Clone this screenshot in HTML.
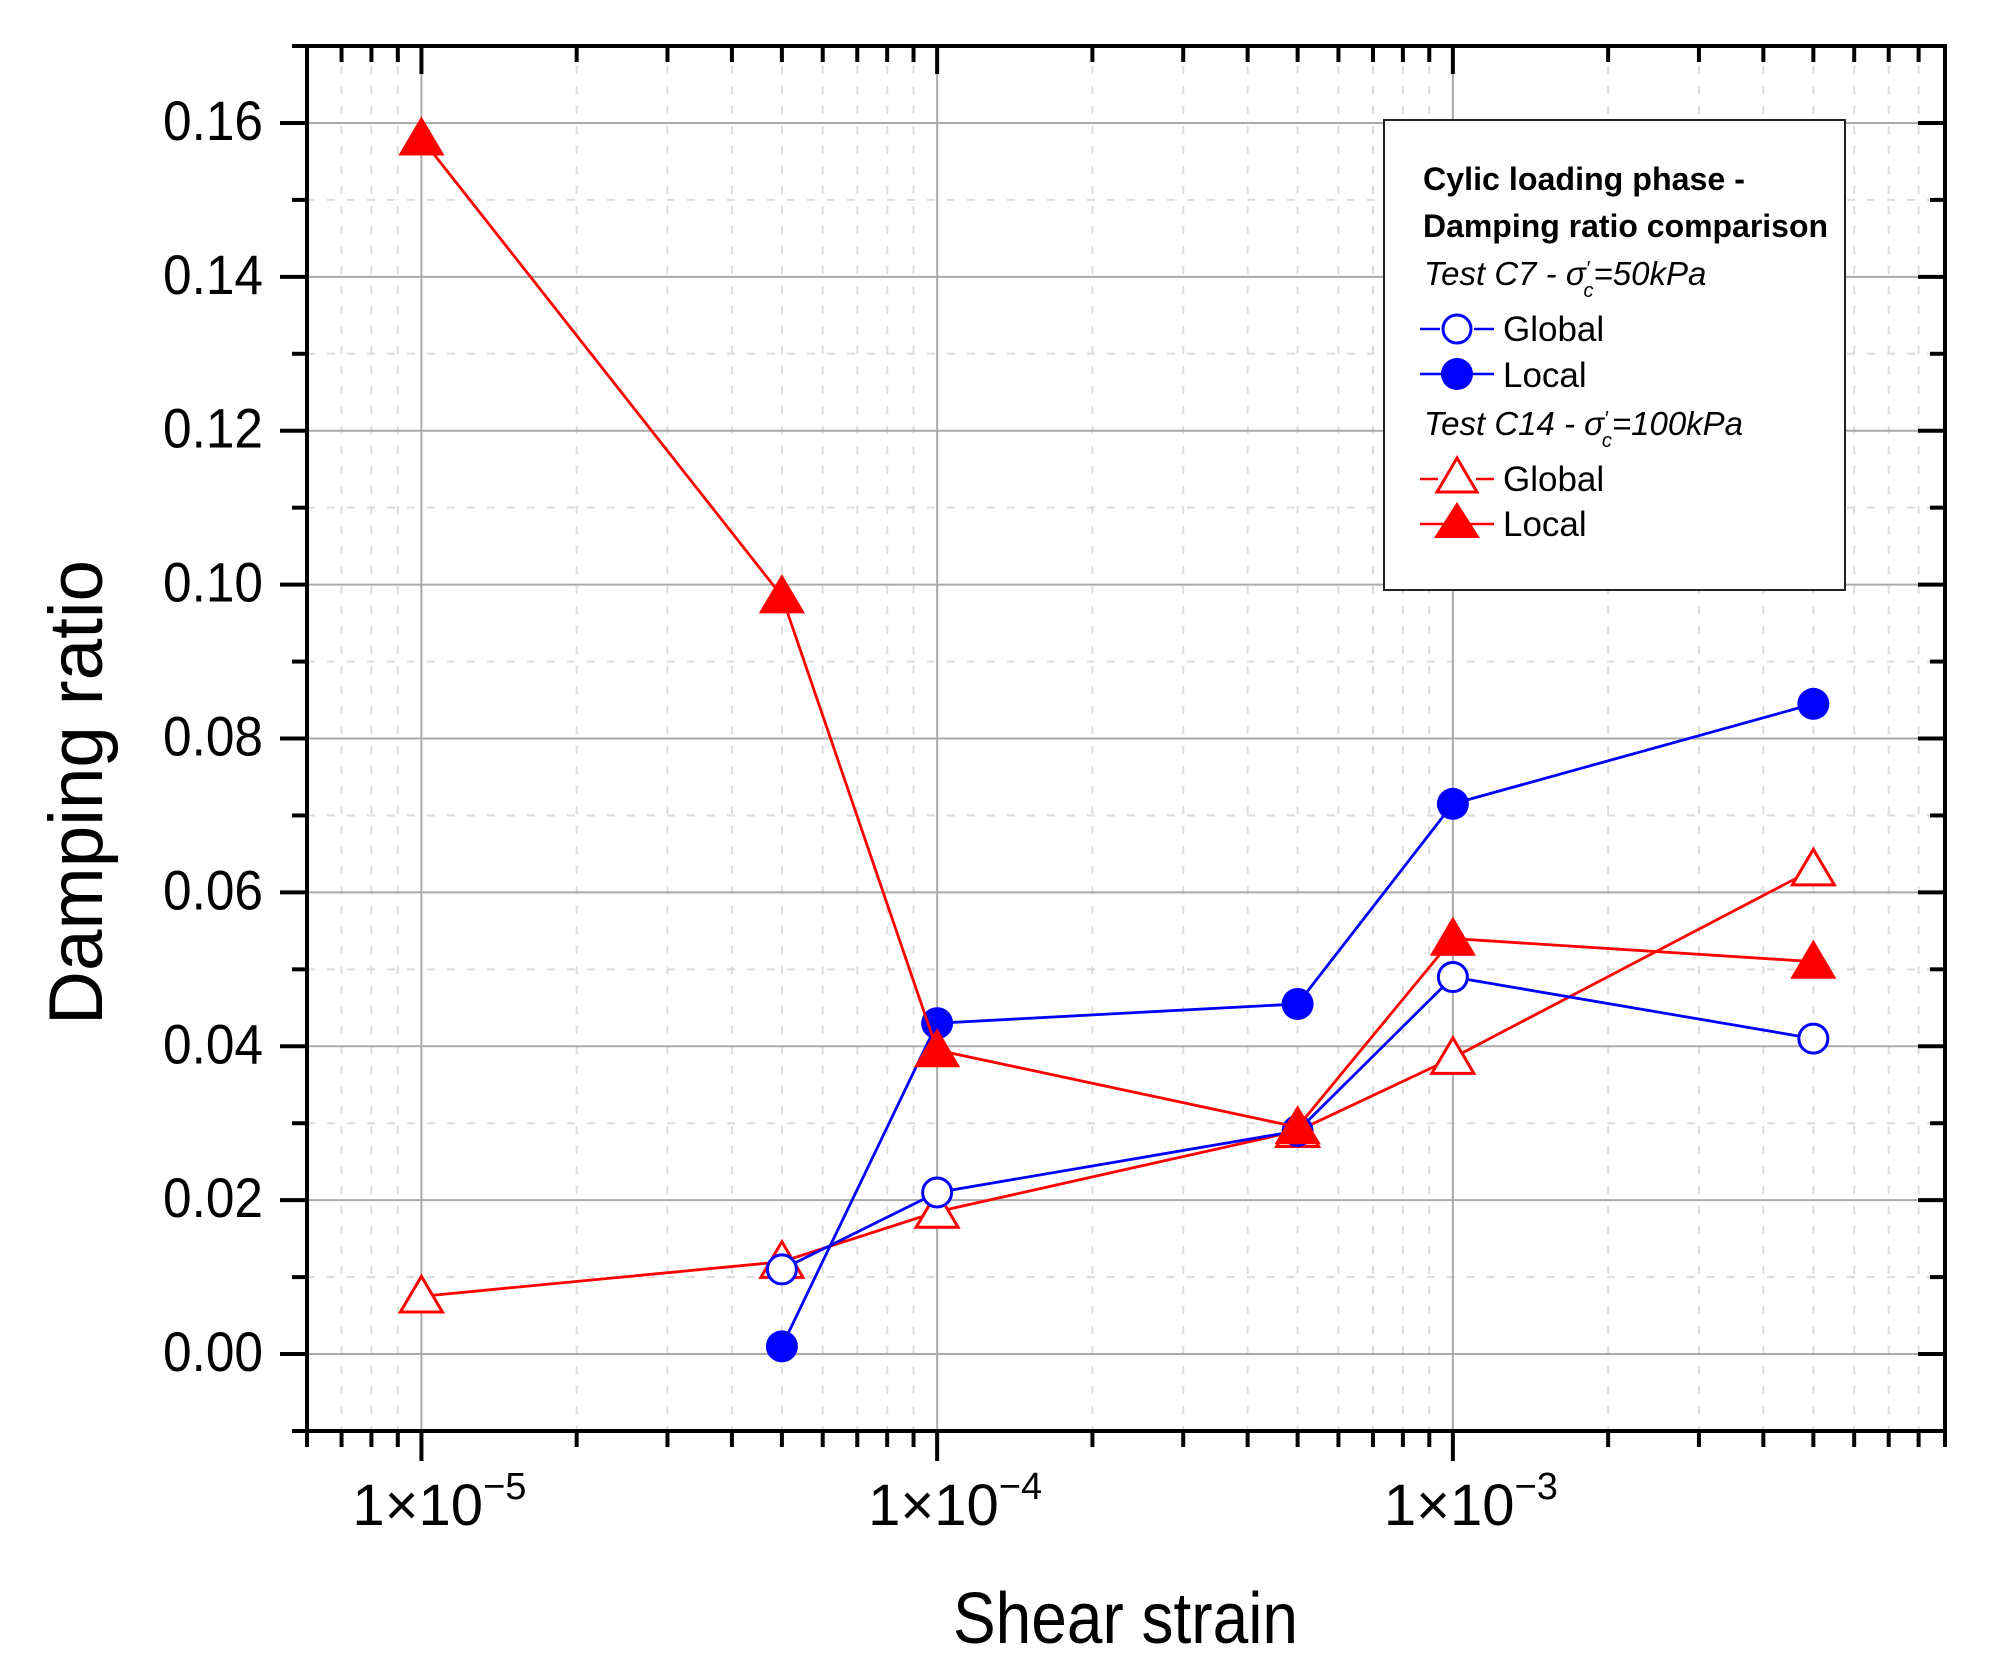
<!DOCTYPE html>
<html><head><meta charset="utf-8"><style>
html,body{margin:0;padding:0;background:#fff}
svg{display:block}
text{font-family:"Liberation Sans",sans-serif}
</style></head><body>
<svg id="chart" width="1994" height="1675" viewBox="0 0 1994 1675" xmlns="http://www.w3.org/2000/svg">
<rect width="1994" height="1675" fill="#fff"/>
<g id="grid"></g>
<g id="series"></g>
<g id="axes"></g>
<text x="953" y="1643" font-size="72" textLength="345" lengthAdjust="spacingAndGlyphs">Shear strain</text>
<text transform="translate(102,1025) rotate(-90)" font-size="76" textLength="465" lengthAdjust="spacingAndGlyphs">Damping ratio</text>
<g>
<rect x="1384" y="120" width="461" height="470" fill="#fff" stroke="#222" stroke-width="2"/>
<text x="1423" y="190" font-size="32" font-weight="bold" textLength="322" lengthAdjust="spacingAndGlyphs">Cylic loading phase -</text>
<text x="1423" y="237" font-size="32" font-weight="bold" textLength="405" lengthAdjust="spacingAndGlyphs">Damping ratio comparison</text>
<text x="1424" y="285" font-size="33" font-style="italic">Test C7 - σ<tspan font-size="20" dy="-10">′</tspan><tspan font-size="20" dy="22" dx="-6">c</tspan><tspan dy="-12">=50kPa</tspan></text>
<g>
<line x1="1420" y1="329" x2="1440" y2="329" stroke="#0000ff" stroke-width="2.5"/>
<line x1="1474" y1="329" x2="1494" y2="329" stroke="#0000ff" stroke-width="2.5"/>
<circle cx="1457" cy="329" r="14" fill="#fff" stroke="#0000ff" stroke-width="3"/>
<text x="1503" y="341" font-size="35">Global</text></g>
<g>
<line x1="1420" y1="374" x2="1494" y2="374" stroke="#0000ff" stroke-width="2.5"/>
<circle cx="1457" cy="374" r="16" fill="#0000ff"/>
<text x="1503" y="387" font-size="35">Local</text></g>
<text x="1424" y="435" font-size="33" font-style="italic">Test C14 - σ<tspan font-size="20" dy="-10">′</tspan><tspan font-size="20" dy="22" dx="-6">c</tspan><tspan dy="-12">=100kPa</tspan></text>
<g>
<line x1="1420" y1="479" x2="1438" y2="479" stroke="#ff0000" stroke-width="2.5"/>
<line x1="1476" y1="479" x2="1494" y2="479" stroke="#ff0000" stroke-width="2.5"/>
<polygon points="1457,458 1477,492 1437,492" fill="#fff" stroke="#ff0000" stroke-width="3"/>
<text x="1503" y="491" font-size="35">Global</text></g>
<g>
<line x1="1420" y1="524" x2="1494" y2="524" stroke="#ff0000" stroke-width="2.5"/>
<polygon points="1457,502 1480,538 1434,538" fill="#ff0000"/>
<text x="1503" y="536" font-size="35">Local</text></g>
</g>
</svg>
<script>
const xCats = [1e-5, 5e-5, 1e-4, 5e-4, 1e-3, 5e-3];
const c7Global = [null, 0.011, 0.021, 0.029, 0.049, 0.041];
const c7Local = [null, 0.001, 0.043, 0.0455, 0.0715, 0.0845];
const c14Global = [0.0075, 0.012, 0.0185, 0.029, 0.0385, 0.063];
const c14Local = [0.158, 0.0985, 0.0395, 0.0295, 0.054, 0.051];
const yTicks = [0, 0.02, 0.04, 0.06, 0.08, 0.10, 0.12, 0.14, 0.16];
const yTickLabels = ["0.00","0.02","0.04","0.06","0.08","0.10","0.12","0.14","0.16"];
const xDecades = [-5, -4, -3];

const NS = "http://www.w3.org/2000/svg";
const L = 307, R = 1945, T = 46, B = 1431;
const xMin = Math.log10(6e-6), xMax = Math.log10(9e-3);
const yMin = -0.01, yMax = 0.17;
function xs(v){ return L + (Math.log10(v) - xMin) / (xMax - xMin) * (R - L); }
function ys(v){ return B - (v - yMin) / (yMax - yMin) * (B - T); }
function mk(parent, tag, attrs){ const e = document.createElementNS(NS, tag); for (const k in attrs) e.setAttribute(k, attrs[k]); parent.appendChild(e); return e; }

const grid = document.getElementById('grid');
const axes = document.getElementById('axes');
const series = document.getElementById('series');

const minorX = [];
for (let d = -6; d <= -3; d++) for (let m = 2; m <= 9; m++) { const v = m * Math.pow(10, d); if (v >= 6e-6 - 1e-12 && v <= 9e-3 + 1e-12) minorX.push(v); }
minorX.forEach(v => {
  const g = mk(grid, 'line', {x1: xs(v), x2: xs(v), y1: T, y2: B, stroke: '#dcdcdc', 'stroke-width': 2, 'stroke-dasharray': '8,12'});
  
  
  const t1 = mk(axes, 'line', {x1: xs(v), x2: xs(v), y1: B, y2: B + 16, stroke: '#000', 'stroke-width': 4});
  
  
  const t2 = mk(axes, 'line', {x1: xs(v), x2: xs(v), y1: T, y2: T + 16, stroke: '#000', 'stroke-width': 4});
  
  
});
const minorY = [-0.01, 0.01, 0.03, 0.05, 0.07, 0.09, 0.11, 0.13, 0.15, 0.17];
minorY.forEach(v => {
  if (v > -0.01 && v < 0.17) {
    const g = mk(grid, 'line', {x1: L, x2: R, y1: ys(v), y2: ys(v), stroke: '#dcdcdc', 'stroke-width': 2, 'stroke-dasharray': '8,12'});
    
    
  }
  const t1 = mk(axes, 'line', {x1: L - 15, x2: L, y1: ys(v), y2: ys(v), stroke: '#000', 'stroke-width': 4});
  
  
  const t2 = mk(axes, 'line', {x1: R - 15, x2: R, y1: ys(v), y2: ys(v), stroke: '#000', 'stroke-width': 4});
  
  
});
yTicks.forEach((v, i) => {
  const g = mk(grid, 'line', {x1: L, x2: R, y1: ys(v), y2: ys(v), stroke: '#aaaaaa', 'stroke-width': 2});
  
  
  const t1 = mk(axes, 'line', {x1: L - 27, x2: L, y1: ys(v), y2: ys(v), stroke: '#000', 'stroke-width': 4});
  
  
  const t2 = mk(axes, 'line', {x1: R - 27, x2: R, y1: ys(v), y2: ys(v), stroke: '#000', 'stroke-width': 4});
  
  
  const lb = mk(axes, 'text', {x: 263, y: ys(v) + 17, 'font-size': 56, 'text-anchor': 'end', textLength: 100, lengthAdjust: 'spacingAndGlyphs'});
  lb.textContent = yTickLabels[i];
  
  
});
xDecades.forEach(d => {
  const v = Math.pow(10, d);
  const g = mk(grid, 'line', {x1: xs(v), x2: xs(v), y1: T, y2: B, stroke: '#aaaaaa', 'stroke-width': 2});
  
  
  const t1 = mk(axes, 'line', {x1: xs(v), x2: xs(v), y1: B, y2: B + 30, stroke: '#000', 'stroke-width': 4});
  
  
  const t2 = mk(axes, 'line', {x1: xs(v), x2: xs(v), y1: T, y2: T + 28, stroke: '#000', 'stroke-width': 4});
  
  
  const lb = mk(axes, 'text', {x: xs(v) - 69, y: 1525, 'font-size': 58});
  
  
  const a = mk(lb, 'tspan', {}); a.textContent = '1×10';
  const b = mk(lb, 'tspan', {'font-size': 38, dy: -26}); b.textContent = '−' + (-d);
});
const frame = mk(axes, 'rect', {x: L, y: T, width: R - L, height: B - T, fill: 'none', stroke: '#000', 'stroke-width': 4});



function drawSeries(vals, color, shape, filled, name){
  const pts = [];
  vals.forEach((v, i) => { if (v !== null) pts.push([xs(xCats[i]), ys(v)]); });
  const pl = mk(series, 'polyline', {points: pts.map(p => p.join(',')).join(' '), fill: 'none', stroke: color, 'stroke-width': 2.8});
  
  
  pts.forEach(p => {
    let m;
    if (shape === 'circle') {
      m = mk(series, 'circle', {cx: p[0], cy: p[1], r: filled ? 16 : 14.5, fill: filled ? color : '#fff', stroke: color, 'stroke-width': filled ? 0 : 3});
    } else {
      const s = filled ? 22 : 20;
      m = mk(series, 'polygon', {points: `${p[0]},${p[1] - s} ${p[0] + s * 1.05},${p[1] + s * 0.78} ${p[0] - s * 1.05},${p[1] + s * 0.78}`, fill: filled ? color : '#fff', stroke: color, 'stroke-width': filled ? 0 : 3});
    }
    
    
  });
}
drawSeries(c14Global, '#ff0000', 'tri', false, 'c14-global');
drawSeries(c7Global, '#0000ff', 'circle', false, 'c7-global');
drawSeries(c7Local, '#0000ff', 'circle', true, 'c7-local');
drawSeries(c14Local, '#ff0000', 'tri', true, 'c14-local');
</script>
</body></html>
